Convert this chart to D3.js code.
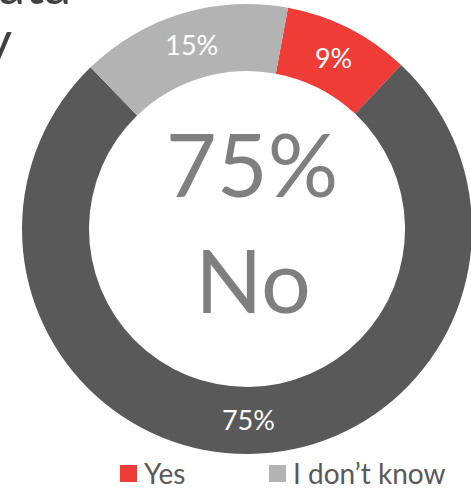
<!DOCTYPE html>
<html>
<head>
<meta charset="utf-8">
<script src="https://cdn.jsdelivr.net/npm/d3@7/dist/d3.min.js"></script>
<style>
  html, body { margin: 0; padding: 0; background: #fff; overflow: hidden; }
  svg { display: block; }
</style>
</head>
<body>
<svg id="chart" width="471" height="497"></svg>
<script>
// Survey answers, in drawing order (clockwise)
const categories = ["Yes", "No", "I don\u2019t know"];
const values = [9, 75, 15];
const colors = ["#EF3C37", "#595959", "#B3B3B3"];
const legendItems = ["Yes", "I don\u2019t know"];
const titleLines = ["Does your organisation have a data", "strategy"];
const headline = { value: "75%", answer: "No" };

const fontFamily = "Lato, 'Open Sans', 'Noto Sans', sans-serif";
const svg = d3.select("#chart");

const cx = 247, cy = 229;
const outerR = 225, innerR = 158;

// Title (runs off the left edge)
svg.append("g")
  .selectAll("text")
  .data(titleLines)
  .join("text")
  .attr("x", (d, i) => i === 0 ? 71 : 12)
  .attr("y", (d, i) => i === 0 ? 4 : 60)
  .attr("text-anchor", "end")
  .attr("font-family", fontFamily)
  .attr("font-size", 54)
  .attr("fill", "#404040")
  .text(d => d);

const pie = d3.pie()
  .sort(null)
  .value(d => d.value)
  .startAngle(10.5 * Math.PI / 180)
  .endAngle(10.5 * Math.PI / 180 + 2 * Math.PI);

const arc = d3.arc().innerRadius(innerR).outerRadius(outerR);
const labelArc = d3.arc().innerRadius((innerR + outerR) / 2).outerRadius((innerR + outerR) / 2);

const data = categories.map((c, i) => ({ name: c, value: values[i], color: colors[i] }));
const arcs = pie(data);

const g = svg.append("g").attr("transform", `translate(${cx},${cy})`);

g.selectAll("path")
  .data(arcs)
  .join("path")
  .attr("d", arc)
  .attr("fill", d => d.data.color);

g.selectAll("text.slice-label")
  .data(arcs)
  .join("text")
  .attr("class", "slice-label")
  .attr("transform", d => `translate(${labelArc.centroid(d)})`)
  .attr("text-anchor", "middle")
  .attr("dy", "0.36em")
  .attr("font-family", fontFamily)
  .attr("font-size", 27)
  .attr("fill", "#fff")
  .text(d => d.data.value + "%");

// Headline in the hole
g.append("text")
  .attr("x", 5)
  .attr("y", -32)
  .attr("text-anchor", "middle")
  .attr("font-family", fontFamily)
  .attr("font-size", 88)
  .attr("fill", "#7F7F7F")
  .text(headline.value);

g.append("text")
  .attr("x", 6)
  .attr("y", 84)
  .attr("text-anchor", "middle")
  .attr("font-family", fontFamily)
  .attr("font-size", 88)
  .attr("fill", "#7F7F7F")
  .text(headline.answer);

// Legend
const legendX = [120, 269];
const legend = svg.append("g")
  .selectAll("g")
  .data(legendItems)
  .join("g")
  .attr("transform", (d, i) => `translate(${legendX[i]},465)`);

legend.append("rect")
  .attr("width", 17)
  .attr("height", 17)
  .attr("fill", d => colors[categories.indexOf(d)]);

legend.append("text")
  .attr("x", 24)
  .attr("y", 19)
  .attr("font-family", fontFamily)
  .attr("font-size", 28)
  .attr("fill", "#595959")
  .text(d => d);
</script>
</body>
</html>
